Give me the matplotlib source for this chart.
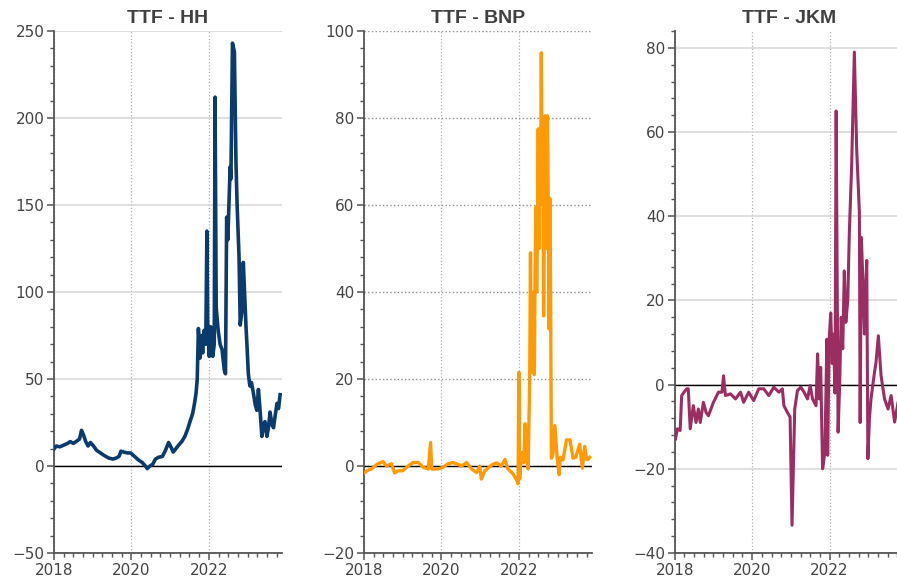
import numpy as np
import matplotlib.pyplot as plt
from matplotlib.ticker import MultipleLocator

# TTF - HH spread (decimal years, value)
hh_t = [2018.00, 2018.06, 2018.15, 2018.25, 2018.35, 2018.42, 2018.50, 2018.60, 2018.66, 2018.71,
        2018.76, 2018.82, 2018.88, 2018.94, 2019.02, 2019.10, 2019.20, 2019.30, 2019.42, 2019.52,
        2019.60, 2019.68, 2019.73, 2019.80, 2019.90, 2019.98, 2020.08, 2020.18, 2020.28, 2020.36,
        2020.41, 2020.48, 2020.55, 2020.62, 2020.70, 2020.80, 2020.88, 2020.96, 2021.03, 2021.08,
        2021.15, 2021.22, 2021.30, 2021.38, 2021.45, 2021.52, 2021.58, 2021.63, 2021.67, 2021.70,
        2021.73, 2021.77, 2021.80, 2021.84, 2021.88, 2021.92, 2021.95, 2021.97, 2022.01, 2022.05,
        2022.10, 2022.14, 2022.16, 2022.19, 2022.24, 2022.29, 2022.34, 2022.40, 2022.43, 2022.46,
        2022.49, 2022.55, 2022.57, 2022.61, 2022.66, 2022.70, 2022.73, 2022.78, 2022.81, 2022.86,
        2022.89, 2022.92, 2022.96, 2022.99, 2023.02, 2023.06, 2023.10, 2023.15, 2023.20, 2023.24,
        2023.28, 2023.32, 2023.37, 2023.42, 2023.45, 2023.50, 2023.54, 2023.58, 2023.63, 2023.67,
        2023.72, 2023.76, 2023.80, 2023.84]
hh_v = [9.8, 11.5, 11.0, 12.0, 13.0, 14.0, 13.0, 14.5, 15.5, 20.5,
        18.0, 14.0, 11.5, 13.5, 11.5, 9.0, 7.5, 6.0, 4.5, 4.0,
        4.5, 5.5, 8.5, 8.0, 7.5, 7.5, 5.5, 3.5, 2.0, 0.0,
        -1.5, 0.0, 1.0, 4.0, 5.0, 5.5, 9.0, 13.5, 10.5, 8.0,
        10.0, 12.0, 14.0, 17.0, 21.0, 26.0, 30.0, 36.0, 42.0, 50.0,
        79.0, 62.0, 75.0, 65.0, 78.0, 70.0, 135.0, 82.0, 63.0, 80.0,
        63.0, 70.0, 212.0, 91.0, 78.0, 70.0, 67.0, 55.0, 53.0, 143.0,
        130.0, 172.0, 165.0, 243.0, 238.0, 175.0, 150.0, 120.0, 81.0, 90.0,
        117.0, 101.0, 80.0, 67.0, 53.0, 46.0, 48.0, 42.0, 35.0, 32.0,
        44.0, 33.0, 17.0, 24.0, 25.5, 17.0, 22.0, 31.0, 24.0, 22.0,
        30.0, 36.0, 33.0, 41.0]

# TTF - BNP spread
bnp_t = [2018.02, 2018.10, 2018.19, 2018.28, 2018.36, 2018.49, 2018.58, 2018.71, 2018.79, 2018.88,
         2019.00, 2019.14, 2019.27, 2019.40, 2019.53, 2019.66, 2019.72, 2019.75, 2019.91, 2020.04,
         2020.17, 2020.30, 2020.39, 2020.52, 2020.65, 2020.78, 2020.91, 2020.99, 2021.03, 2021.12,
         2021.20, 2021.29, 2021.42, 2021.55, 2021.64, 2021.72, 2021.85, 2021.96, 2021.98, 2022.00,
         2022.02, 2022.07, 2022.13, 2022.16, 2022.20, 2022.24, 2022.26, 2022.28, 2022.30, 2022.32,
         2022.34, 2022.36, 2022.38, 2022.40, 2022.42, 2022.44, 2022.46, 2022.48, 2022.50, 2022.52,
         2022.54, 2022.56, 2022.58, 2022.60, 2022.62, 2022.64, 2022.66, 2022.68, 2022.70, 2022.72,
         2022.74, 2022.76, 2022.78, 2022.80, 2022.82, 2022.84, 2022.88, 2022.93, 2022.99, 2023.04,
         2023.07, 2023.14, 2023.23, 2023.32, 2023.40, 2023.47, 2023.57, 2023.64, 2023.70, 2023.75,
         2023.79, 2023.83]
bnp_v = [-1.5, -1.0, -0.7, 0.0, 0.5, 1.0, 0.0, 0.5, -1.6, -1.1,
         -1.1, 0.0, 0.8, 0.8, -0.3, -0.7, 5.4, -0.7, -0.7, -0.3,
         0.5, 0.8, 0.5, 0.0, 0.8, -0.7, -1.5, 0.0, -3.0, -1.1,
         -0.5, 0.2, 0.7, 0.0, 1.5, -0.7, -1.8, -3.5, -4.1, 21.5,
         -3.0, 3.1, 0.8, 9.7, 2.0, -0.7, 10.0, 20.0, 49.0, 25.0,
         35.0, 21.5, 40.0, 21.0, 45.0, 59.5, 40.0, 55.0, 77.5, 50.0,
         70.0, 60.0, 95.0, 65.0, 77.0, 34.5, 60.0, 80.5, 50.0, 75.0,
         80.5, 60.0, 31.5, 61.5, 40.0, 1.8, 2.6, 9.3, 1.8, -2.0,
         2.0, 1.4, 6.0, 6.0, 1.8, 2.0, 5.0, -0.5, 4.5, 1.5,
         1.5, 2.0]

# TTF - JKM spread
jkm_t = [2018.02, 2018.07, 2018.14, 2018.18, 2018.24, 2018.31, 2018.35, 2018.40, 2018.48, 2018.55,
         2018.61, 2018.66, 2018.74, 2018.81, 2018.87, 2019.00, 2019.13, 2019.22, 2019.26, 2019.31,
         2019.44, 2019.57, 2019.70, 2019.78, 2019.91, 2020.04, 2020.17, 2020.30, 2020.43, 2020.56,
         2020.69, 2020.78, 2020.82, 2020.91, 2020.98, 2021.03, 2021.10, 2021.17, 2021.26, 2021.34,
         2021.43, 2021.50, 2021.56, 2021.65, 2021.69, 2021.73, 2021.77, 2021.82, 2021.88, 2021.93,
         2021.95, 2021.99, 2022.03, 2022.07, 2022.10, 2022.14, 2022.17, 2022.20, 2022.22, 2022.26,
         2022.30, 2022.34, 2022.38, 2022.42, 2022.47, 2022.51, 2022.57, 2022.64, 2022.70, 2022.77,
         2022.79, 2022.82, 2022.86, 2022.90, 2022.93, 2022.96, 2022.99, 2023.03, 2023.07, 2023.16,
         2023.20, 2023.26, 2023.33, 2023.42, 2023.51, 2023.59, 2023.68, 2023.77, 2023.83, 2023.88]
jkm_v = [-12.9, -10.5, -10.9, -2.6, -1.8, -1.0, -1.0, -10.5, -5.0, -9.0,
         -5.8, -9.0, -4.2, -6.6, -7.4, -4.2, -1.8, -1.8, 2.1, -2.6,
         -2.2, -3.4, -1.8, -4.2, -1.8, -3.8, -1.0, -1.0, -2.6, -0.6,
         -1.8, -1.0, -5.0, -6.6, -7.7, -33.4, -5.8, -1.4, -0.6, -1.8,
         -3.4, -0.2, -3.4, -5.0, 7.3, -3.4, 4.1, -20.0, -16.0, 10.8,
         -16.8, 10.8, 17.0, 5.0, 12.0, -2.0, 65.0, 20.0, -11.3, -0.2,
         16.0, 8.5, 27.0, 14.8, 20.0, 36.0, 52.0, 79.0, 56.0, 41.0,
         -9.0, 35.0, 25.0, 12.0, 22.0, 29.5, -17.6, -8.0, -3.4, 2.9,
         5.3, 11.6, 2.1, -3.4, -5.8, -2.6, -8.9, -4.2, -10.0, -2.5]

panels = [
    ("TTF - HH", hh_t, hh_v, "#0b3a6c", 2.6, (-50, 250), 50, 10, "-", 0.0602),
    ("TTF - BNP", bnp_t, bnp_v, "#ff9a05", 2.4, (-20, 100), 20, 4, ":", 0.4058),
    ("TTF - JKM", jkm_t, jkm_v, "#9b2d62", 2.2, (-40, 84), 20, 4, "-", 0.7522),
]

fig = plt.figure(figsize=(8.97, 5.84), dpi=100)

for title, t, v, col, lw, ylim, major, minor, hstyle, left in panels:
    ax = fig.add_axes([left, 0.0531, 0.2542, 0.8938])
    ax.plot(t, v, color=col, lw=lw, zorder=3, solid_joinstyle="round")
    ax.axhline(0, color="black", lw=1, zorder=2)
    ax.set_xlim(2018, 2023.89)
    ax.set_ylim(*ylim)
    ax.xaxis.set_major_locator(MultipleLocator(2))
    ax.xaxis.set_minor_locator(MultipleLocator(0.25))
    ax.yaxis.set_major_locator(MultipleLocator(major))
    ax.yaxis.set_minor_locator(MultipleLocator(minor))
    ax.xaxis.set_major_formatter(plt.FuncFormatter(lambda x, p: "%d" % x))
    ax.grid(axis="x", which="major", color="#b0b0b0", ls=":", lw=0.9)
    if hstyle == "-":
        ax.grid(axis="y", which="major", color="#d6d6d6", ls="-", lw=1.1)
    else:
        ax.grid(axis="y", which="major", color="#909090", ls=":", lw=1.0)
    for s in ["top", "right"]:
        ax.spines[s].set_visible(False)
    for s in ["left", "bottom"]:
        ax.spines[s].set_color("#555555")
        ax.spines[s].set_linewidth(1.3)
    ax.tick_params(which="major", length=5, width=1.1, color="#555555",
                   labelsize=11, labelcolor="#444444", pad=2)
    ax.tick_params(which="minor", length=3, width=1.0, color="#555555")
    ax.set_title(title, fontsize=14, fontweight="bold", color="#404040",
                 family="Liberation Sans", pad=6)

plt.savefig("out.png", dpi=100)
